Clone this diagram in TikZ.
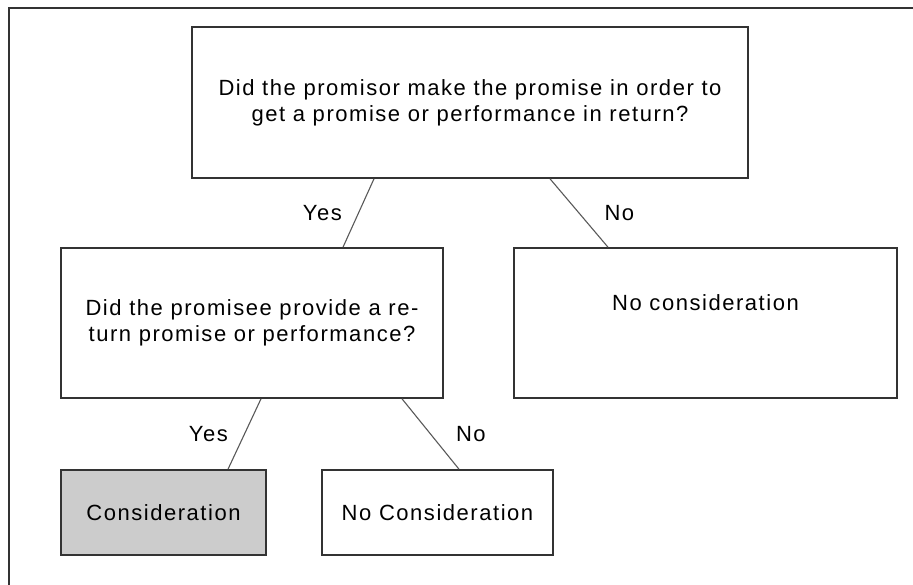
\documentclass[tikz,border=0pt]{standalone}
\usepackage{fontspec}
\setmainfont{Liberation Sans}[LetterSpace=7]
\usetikzlibrary{positioning}

\tikzset{
  every box/.style={draw=black!80, line width=1.6pt, align=center, inner sep=0pt,
    font=\fontsize{22}{26}\selectfont},
  box top/.style={minimum width=556pt, minimum height=151pt},
  box promisee/.style={minimum width=382pt, minimum height=150pt},
  box none/.style={minimum width=383pt, minimum height=150pt, text depth=40pt},
  box yes/.style={minimum width=205pt, minimum height=85pt, fill=black!20},
  box no/.style={minimum width=231pt, minimum height=85pt},
  branch/.style={draw=black!65, line width=1.1pt},
  answer/.style={inner sep=2pt, font=\fontsize{22}{26}\selectfont}
}

\begin{document}
\begin{tikzpicture}[x=1pt, y=-1pt]
\useasboundingbox (0,0) rectangle (913,585);

% outer frame, cut off at the right and bottom
\draw [black!80, line width=1.6pt] (9,585) -- (9,8) -- (913,8);

\foreach \n/\x/\y/\t in {
  top/470/102.5/{Did the promisor make the promise in order to\\get a promise or performance in return?},
  promisee/252/323/{Did the promisee provide a re-\\turn promise or performance?},
  none/705.5/323/{No consideration},
  yes/163.5/512.5/{Consideration},
  no/437.5/512.5/{No Consideration}}
  \node [every box/.try, box \n/.try] (box-\n) at (\x,\y) {\t};

\draw [branch] ([xshift=-96]box-top.south) -- ([xshift=91]box-promisee.north)
  node [answer, midway, left=14pt] {Yes};
\draw [branch] ([xshift=80]box-top.south) -- ([xshift=-97.5]box-none.north)
  node [answer, midway, right=23pt] {No};
\draw [branch] ([xshift=9]box-promisee.south) -- ([xshift=64.5]box-yes.north)
  node [answer, midway, left=14pt] {Yes};
\draw [branch] ([xshift=150]box-promisee.south) -- ([xshift=21.5]box-no.north)
  node [answer, midway, right=23pt] {No};

\end{tikzpicture}
\end{document}
